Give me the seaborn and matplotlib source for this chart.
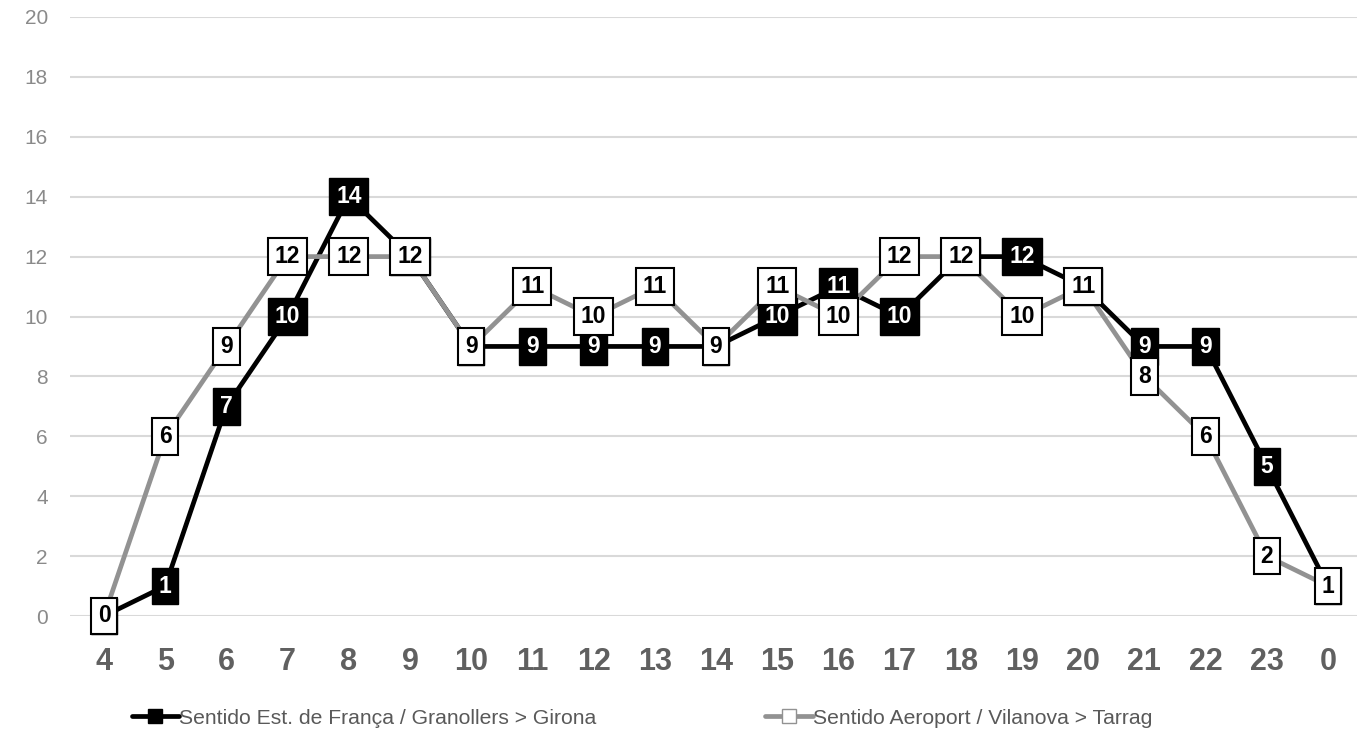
import matplotlib
matplotlib.use("Agg")
import matplotlib.pyplot as plt
import seaborn as sns
import pandas as pd
from matplotlib.lines import Line2D

hours = ["4", "5", "6", "7", "8", "9", "10", "11", "12", "13", "14", "15", "16",
         "17", "18", "19", "20", "21", "22", "23", "0"]
girona = [0, 1, 7, 10, 14, 12, 9, 9, 9, 9, 9, 10, 11, 10, 12, 12, 11, 9, 9, 5, 1]
tarrag = [0, 6, 9, 12, 12, 12, 9, 11, 10, 11, 9, 11, 10, 12, 12, 10, 11, 8, 6, 2, 1]
name_g = "Sentido Est. de França / Granollers > Girona"
name_t = "Sentido Aeroport / Vilanova > Tarrag"
y_ticks = [0, 2, 4, 6, 8, 10, 12, 14, 16, 18, 20]

sns.set_theme(style="white")
plt.rcParams['font.family'] = ['Liberation Sans', 'DejaVu Sans']

fig = plt.figure(figsize=(13.57, 7.45), dpi=100)
ax = fig.add_axes([70 / 1357, 129 / 745, 1 - 70 / 1357, 599 / 745])

idx = list(range(len(hours)))
df = pd.DataFrame({"i": idx, "g": girona, "t": tarrag})

BLACK = "#000000"
GREY = "#929292"

sns.lineplot(data=df, x="i", y="g", ax=ax, color=BLACK, linewidth=3.4, zorder=3)
sns.lineplot(data=df, x="i", y="t", ax=ax, color=GREY, linewidth=3.4, zorder=4)

for i, v in zip(idx, girona):
    ax.text(i, v, str(v), ha="center", va="center", fontsize=16.5, fontweight="bold",
            color="white", zorder=5, clip_on=False,
            bbox=dict(boxstyle="square,pad=0.3", facecolor="black", edgecolor="black", linewidth=1))
for i, v in zip(idx, tarrag):
    ax.text(i, v, str(v), ha="center", va="center", fontsize=16.5, fontweight="bold",
            color="black", zorder=6, clip_on=False,
            bbox=dict(boxstyle="square,pad=0.3", facecolor="white", edgecolor="black", linewidth=1.5))

ax.set_xlim(-0.556, (1357 - 104) / 61.2)
ax.set_ylim(0, 20)
ax.set_yticks(y_ticks)
ax.set_yticklabels([str(t) for t in y_ticks], fontsize=15, color="#8a8a8a")
ax.set_xticks(idx)
ax.set_xticklabels(hours, fontsize=22, fontweight="bold", color="#606060")
ax.tick_params(axis="y", length=0, pad=16)
ax.tick_params(axis="x", length=0, pad=22)
ax.set_xlabel("")
ax.set_ylabel("")
ax.yaxis.grid(True, color="#d9d9d9", linewidth=1.5)
ax.set_axisbelow(True)
for s in ax.spines.values():
    s.set_visible(False)

handles = [
    Line2D([0], [0], color=BLACK, linewidth=3.4, marker="s", markersize=10,
           markerfacecolor=BLACK, markeredgecolor=BLACK),
    Line2D([0], [0], color=GREY, linewidth=3.4, marker="s", markersize=10,
           markerfacecolor="white", markeredgecolor=GREY),
]
fig.legend(handles, [name_g, name_t], loc="center", bbox_to_anchor=(0.473, 27 / 745),
           ncol=2, frameon=False, fontsize=15.2, labelcolor="#595959",
           handlelength=2.25, handletextpad=0.0, columnspacing=8.0)

fig.savefig("out.png", dpi=100)
